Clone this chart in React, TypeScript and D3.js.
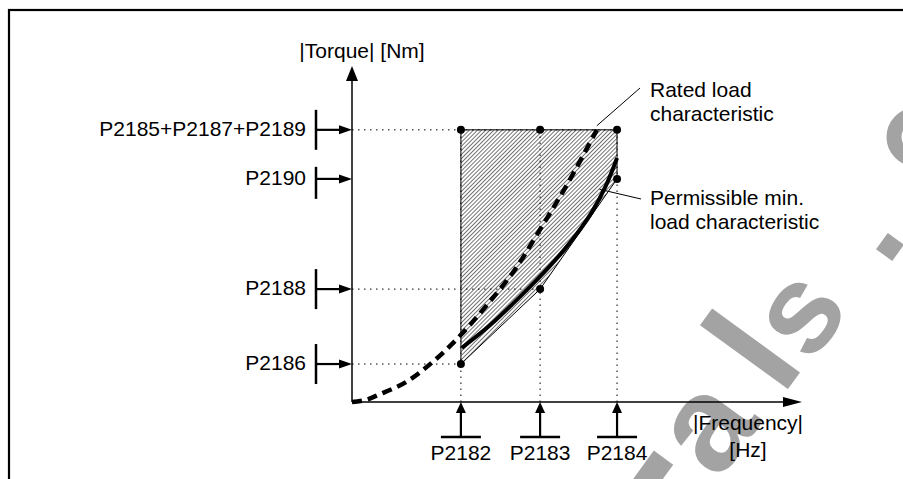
import * as d3 from "d3"

// tick parameters on the frequency axis and their positions (Hz, schematic)
const FREQ_TICKS = ["P2182", "P2183", "P2184"]
const FREQ_VALUES = [24.2, 41.8, 58.9]

// tick parameters on the torque axis (Nm, schematic)
const TORQUE_TICKS = ["P2185+P2187+P2189", "P2190", "P2188", "P2186"]
const TORQUE_VALUES = [81, 66.4, 33.6, 11.3]

// rated load characteristic (dashed)
const RATED_FREQ = [0, 3, 6, 12, 18, 24, 30, 36, 42, 48, 54.4]
const RATED_TORQUE = [0, 0.6, 2.2, 5.9, 12, 19.7, 28.9, 39, 51.8, 65.2, 81]

// actual load curve (thick solid)
const LOAD_FREQ = [24.4, 30.7, 37.3, 43.6, 48.9, 53.3, 56.4, 58.9]
const LOAD_TORQUE = [16.1, 22.9, 31.3, 39.9, 48.2, 56.5, 64.3, 72.6]

// monitoring envelope corners
const ENVELOPE_FREQ = ["P2182", "P2184", "P2184", "P2183", "P2182"]
const ENVELOPE_TORQUE = ["P2185+P2187+P2189", "P2185+P2187+P2189", "P2190", "P2188", "P2186"]

const FONT = "'Liberation Sans', Arial, sans-serif"
const WIDTH = 903
const HEIGHT = 479
const WATERMARK = "#a3a3a3"

const fv = (name: string) => FREQ_VALUES[FREQ_TICKS.indexOf(name)]
const tv = (name: string) => TORQUE_VALUES[TORQUE_TICKS.indexOf(name)]

export default function App() {
  const x = d3.scaleLinear().domain([0, 100]).range([352, 802])
  const y = d3.scaleLinear().domain([0, 100]).range([402, 66])

  const x0 = x(0)
  const y0 = y(0)
  const top = tv("P2185+P2187+P2189")

  const curve = d3
    .line<[number, number]>()
    .x((d) => x(d[0]))
    .y((d) => y(d[1]))
    .curve(d3.curveCatmullRom.alpha(0.5))

  const rated = RATED_FREQ.map((f, i) => [f, RATED_TORQUE[i]] as [number, number])
  const load = LOAD_FREQ.map((f, i) => [f, LOAD_TORQUE[i]] as [number, number])
  const envelope = ENVELOPE_FREQ.map(
    (f, i) => [x(fv(f)), y(tv(ENVELOPE_TORQUE[i]))] as [number, number]
  )
  const dots = [...envelope, [x(fv("P2183")), y(top)] as [number, number]]

  // horizontal dotted guides: torque tick -> frequency where its corner sits
  const hGuides = [
    { t: "P2185+P2187+P2189", f: "P2184" },
    { t: "P2188", f: "P2183" },
    { t: "P2186", f: "P2182" },
  ]

  const barHalf = 20
  let prevBottom = -Infinity
  const torqueMarks = TORQUE_TICKS.map((name) => {
    const yy = y(tv(name))
    const barTop = Math.max(yy - barHalf, prevBottom + 17)
    const barBottom = yy + barHalf
    prevBottom = barBottom
    return { name, yy, barTop, barBottom }
  })

  const ratedEnd = [x(54.4), y(82.2)]
  const loadPoint = [x(55), y(63.3)]

  return (
    <svg
      width={WIDTH}
      height={HEIGHT}
      viewBox={`0 0 ${WIDTH} ${HEIGHT}`}
      style={{ position: "absolute", left: 0, top: 0, background: "white" }}
      fontFamily={FONT}
    >
      <defs>
        <pattern
          id="hatch"
          width={2.9}
          height={2.9}
          patternUnits="userSpaceOnUse"
          patternTransform="rotate(45)"
        >
          <line x1={0} y1={0} x2={0} y2={2.9} stroke="#000" strokeWidth={1.1} />
        </pattern>
      </defs>

      {/* watermark */}
      <g fill={WATERMARK} fontWeight={700} fontFamily={FONT}>
        {[
          { c: "a", cx: 703, cy: 424, size: 135 },
          { c: "l", cx: 752, cy: 350, size: 150 },
          { c: "s", cx: 796, cy: 311, size: 125 },
        ].map((g) => (
          <text
            key={g.c}
            fontSize={g.size}
            transform={`translate(${g.cx},${g.cy}) rotate(-54)`}
            textAnchor="middle"
            dominantBaseline="central"
          >
            {g.c}
          </text>
        ))}
      </g>
      <rect x={-10} y={-10} width={20} height={20} fill={WATERMARK} transform="translate(890,247) rotate(-54)" />
      <circle cx={916} cy={137} r={22} fill="none" stroke={WATERMARK} strokeWidth={15} />
      <rect x={-12} y={-40} width={24} height={80} fill={WATERMARK} transform="translate(640,490) rotate(36)" />

      {/* frame */}
      <rect x={9} y={10} width={1000} height={1000} fill="none" stroke="#000" strokeWidth={2.2} />

      {/* hatched envelope */}
      <path
        d={`M${envelope.map((p) => p.join(",")).join("L")}Z`}
        fill="url(#hatch)"
        stroke="#000"
        strokeWidth={1}
      />

      {/* dotted guides */}
      <g stroke="#000" strokeWidth={1} strokeDasharray="1.5 4.5">
        {hGuides.map((g) => (
          <line key={g.t} x1={x0} x2={x(fv(g.f))} y1={y(tv(g.t))} y2={y(tv(g.t))} />
        ))}
        {FREQ_TICKS.map((name) => (
          <line key={name} x1={x(fv(name))} x2={x(fv(name))} y1={y0} y2={y(top)} />
        ))}
      </g>

      {/* curves */}
      <path
        d={curve(rated) ?? ""}
        fill="none"
        stroke="#000"
        strokeWidth={4.5}
        strokeDasharray="10 6"
      />
      <path d={curve(load) ?? ""} fill="none" stroke="#000" strokeWidth={4} />

      {/* dots */}
      {dots.map((p, i) => (
        <circle key={i} cx={p[0]} cy={p[1]} r={4} fill="#000" />
      ))}

      {/* axes */}
      <g stroke="#000" strokeWidth={1.5}>
        <line x1={x0} x2={x0} y1={y0} y2={y(100) + 14} />
        <line x1={x0} x2={x(100) - 18} y1={y0} y2={y0} />
      </g>
      <path
        d={`M${x0},${y(100)}L${x0 - 6},${y(100) + 15}L${x0 + 6},${y(100) + 15}Z`}
        fill="#000"
      />
      <path
        d={`M${x(100)},${y0}L${x(100) - 19},${y0 - 5}L${x(100) - 19},${y0 + 5}Z`}
        fill="#000"
      />
      <text x={362} y={58} fontSize={21} textAnchor="middle">
        |Torque| [Nm]
      </text>
      <text x={748} y={430} fontSize={21} textAnchor="middle">
        |Frequency|
      </text>
      <text x={748} y={457} fontSize={21} textAnchor="middle">
        [Hz]
      </text>

      {/* torque parameter markers */}
      {torqueMarks.map((m) => (
        <g key={m.name}>
          <line x1={x0 - 36} x2={x0 - 36} y1={m.barTop} y2={m.barBottom} stroke="#000" strokeWidth={2.5} />
          <line x1={x0 - 36} x2={x0 - 12} y1={m.yy} y2={m.yy} stroke="#000" strokeWidth={2.2} />
          <path d={`M${x0},${m.yy}L${x0 - 13},${m.yy - 4.5}L${x0 - 13},${m.yy + 4.5}Z`} fill="#000" />
          <text x={x0 - 46} y={m.yy + 6} fontSize={21} textAnchor="end">
            {m.name}
          </text>
        </g>
      ))}

      {/* frequency parameter markers */}
      {FREQ_TICKS.map((name) => {
        const xx = x(fv(name))
        return (
          <g key={name}>
            <line x1={xx - 20} x2={xx + 20} y1={y0 + 35} y2={y0 + 35} stroke="#000" strokeWidth={2.5} />
            <line x1={xx} x2={xx} y1={y0 + 35} y2={y0 + 10} stroke="#000" strokeWidth={2.2} />
            <path d={`M${xx},${y0}L${xx - 5},${y0 + 11}L${xx + 5},${y0 + 11}Z`} fill="#000" />
            <text x={xx} y={460} fontSize={21} textAnchor="middle">
              {name}
            </text>
          </g>
        )
      })}

      {/* annotations */}
      <line x1={ratedEnd[0]} y1={ratedEnd[1]} x2={640} y2={88} stroke="#000" strokeWidth={1} />
      <line x1={loadPoint[0]} y1={loadPoint[1]} x2={641} y2={199} stroke="#000" strokeWidth={1} />
      <g fontSize={21}>
        <text x={650} y={97}>Rated load</text>
        <text x={650} y={121}>characteristic</text>
        <text x={650} y={205}>Permissible min.</text>
        <text x={650} y={229}>load characteristic</text>
      </g>
    </svg>
  )
}
